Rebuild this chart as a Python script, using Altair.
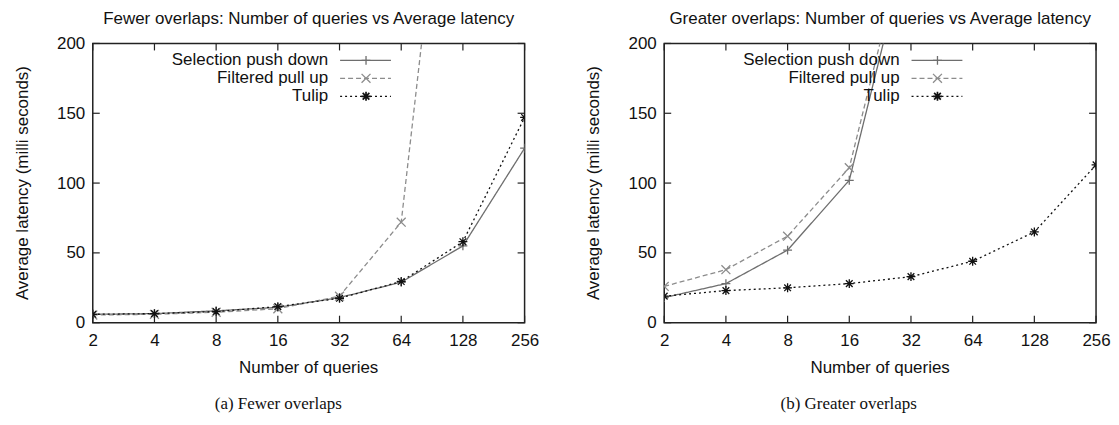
import altair as alt
import pandas as pd

# ---------------- data ----------------
queries = [2, 4, 8, 16, 32, 64, 128, 256]
series_names = ["Selection push down", "Filtered pull up", "Tulip"]

fewer_selection = [6, 6.5, 8.5, 11, 18, 29, 55, 125]
fewer_filtered = [5.5, 6, 7.5, 10, 19, 72, 460]
fewer_tulip = [6, 6.5, 8, 11.5, 17.5, 29.5, 58, 147]

greater_selection = [18, 28, 52, 102, 280]
greater_filtered = [26, 38, 62, 111, 290]
greater_tulip = [19, 23, 25, 28, 33, 44, 65, 113]

y_ticks = [0, 50, 100, 150, 200]

titles = ["Fewer overlaps: Number of queries vs Average latency",
          "Greater overlaps: Number of queries vs Average latency"]
captions = ["(a) Fewer overlaps", "(b) Greater overlaps"]
x_title = "Number of queries"
y_title = "Average latency (milli seconds)"

# ---------------- style ----------------
colors = ["#6e6e6e", "#8c8c8c", "#111111"]
dashes = [[1, 0], [5, 3], [2, 3]]
shapes = ["M-1,0L1,0M0,-1L0,1",
          "M-1,-1L1,1M-1,1L1,-1",
          "M-1,0L1,0M0,-1L0,1M-0.75,-0.75L0.75,0.75M-0.75,0.75L0.75,-0.75"]
marker_widths = [1.3, 1.3, 1.7]
W, H = 433, 280
FONT = "Liberation Sans"
SERIF = "Liberation Serif"
FS = 17
TXT = "#111111"


def label(txt, x, y, size=FS, font=FONT, angle=0, baseline="middle"):
    return alt.Chart(pd.DataFrame({"t": [txt]})).mark_text(
        font=font, fontSize=size, angle=angle, align="center",
        baseline=baseline, color=TXT
    ).encode(text="t:N", x=alt.value(x), y=alt.value(y))


def panel(sel, fil, tul, title, caption, cap_x):
    rows = []
    for name, vals in zip(series_names, [sel, fil, tul]):
        for q, v in zip(queries, vals):
            rows.append({"q": q, "v": v, "s": name})
    df = pd.DataFrame(rows)

    xs = alt.Scale(type="log", base=2, domain=[2, 256], nice=False)
    ys = alt.Scale(domain=[0, 200], nice=False, zero=False)
    xaxis = alt.Axis(values=queries, format="d", ticks=False, domain=False,
                     grid=False, labelPadding=10, labelFlush=False, title=None)
    yaxis = alt.Axis(values=y_ticks, ticks=False, domain=False, grid=False,
                     labelPadding=8, title=None)
    X = alt.X("q:Q", scale=xs, axis=xaxis)
    Y = alt.Y("v:Q", scale=ys, axis=yaxis)
    color = alt.Color("s:N", scale=alt.Scale(domain=series_names, range=colors), legend=None)
    dash = alt.StrokeDash("s:N", scale=alt.Scale(domain=series_names, range=dashes), legend=None)
    shape = alt.Shape("s:N", scale=alt.Scale(domain=series_names, range=shapes), legend=None)
    swidth = alt.StrokeWidth("s:N", scale=alt.Scale(domain=series_names, range=marker_widths), legend=None)

    base = alt.Chart(df)
    lines = base.mark_line(clip=True, strokeWidth=1.3).encode(
        x=X, y=Y, color=color, strokeDash=dash, detail="s:N")
    points = base.mark_point(clip=True, filled=False, size=80,
                             opacity=1).encode(x=X, y=Y, color=color, shape=shape,
                                               strokeWidth=swidth)

    tx = alt.Chart(pd.DataFrame({"q": queries}))
    ty = alt.Chart(pd.DataFrame({"v": y_ticks}))
    tick_style = dict(color="#222222", strokeWidth=1.2)
    xb = tx.mark_rule(**tick_style).encode(x=X, y=alt.value(H), y2=alt.value(H - 7))
    xt = tx.mark_rule(**tick_style).encode(x=X, y=alt.value(0), y2=alt.value(7))
    yl = ty.mark_rule(**tick_style).encode(y=Y, x=alt.value(0), x2=alt.value(7))
    yr = ty.mark_rule(**tick_style).encode(y=Y, x=alt.value(W), x2=alt.value(W - 7))

    legend = []
    for i, name in enumerate(series_names):
        ly = 17 + 18 * i
        d = alt.Chart(pd.DataFrame({"s": [name]}))
        legend.append(d.mark_text(align="right", baseline="middle", font=FONT,
                                  fontSize=FS, color=TXT).encode(
            text="s:N", x=alt.value(236), y=alt.value(ly)))
        legend.append(d.mark_rule(color=colors[i], strokeDash=dashes[i],
                                  strokeWidth=1.3).encode(
            x=alt.value(248), x2=alt.value(299), y=alt.value(ly)))
        legend.append(d.mark_point(shape=shapes[i], size=80, filled=False,
                                   color=colors[i], strokeWidth=marker_widths[i],
                                   opacity=1).encode(
            x=alt.value(274), y=alt.value(ly)))

    texts = [
        label(title, W / 2, -19.5, baseline="alphabetic"),
        label(x_title, W / 2, H + 45),
        label(y_title, -70, H / 2, angle=270),
        label(caption, cap_x, H + 82, font=SERIF),
    ]

    return alt.layer(lines, points, xb, xt, yl, yr, *legend, *texts).properties(
        width=W, height=H)


left = panel(fewer_selection, fewer_filtered, fewer_tulip, titles[0], captions[0], 186)
right = panel(greater_selection, greater_filtered, greater_tulip, titles[1], captions[1], 185)

chart = alt.hconcat(left, right, spacing=140, bounds="flush").properties(
    padding={"left": 5, "top": 0, "right": 0, "bottom": 0}
).configure_view(
    stroke="#222222", strokeWidth=1.5
).configure_axis(
    labelFont=FONT, labelFontSize=FS, labelColor=TXT
)

chart.save("out.html", embed_options={"renderer": "svg", "actions": False})
